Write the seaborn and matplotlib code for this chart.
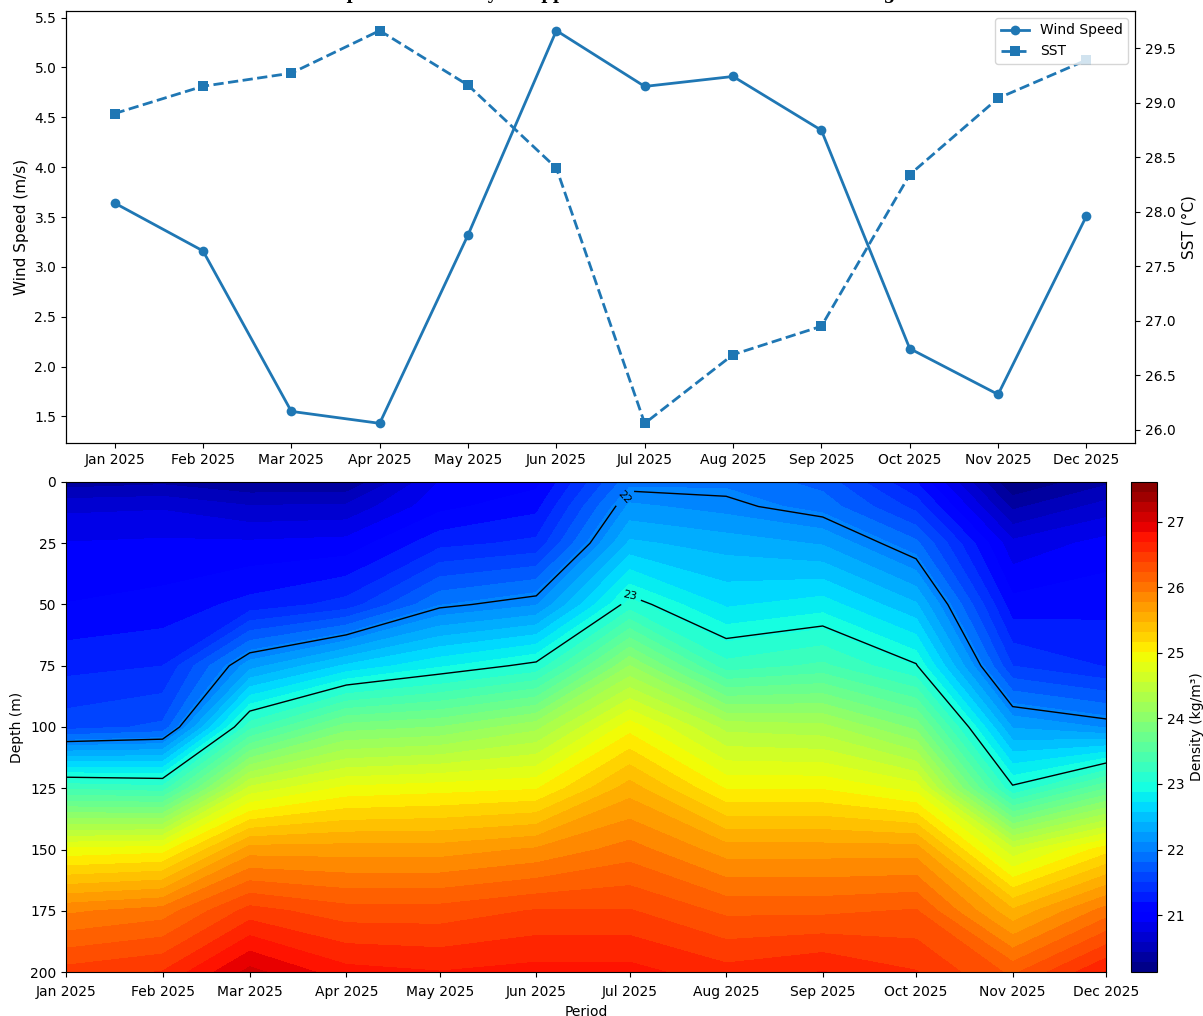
import numpy as np
import pandas as pd
import matplotlib
matplotlib.use('Agg')
import matplotlib.pyplot as plt
import matplotlib.dates as mdates
import seaborn as sns

# Monthly surface forcing
months = ['Jan 2025', 'Feb 2025', 'Mar 2025', 'Apr 2025', 'May 2025', 'Jun 2025',
          'Jul 2025', 'Aug 2025', 'Sep 2025', 'Oct 2025', 'Nov 2025', 'Dec 2025']
wind_speed = [3.64, 3.16, 1.55, 1.43, 3.32, 5.37, 4.81, 4.91, 4.37, 2.18, 1.72, 3.51]
sst = [28.90, 29.15, 29.27, 29.66, 29.16, 28.40, 26.06, 26.69, 26.95, 28.34, 29.04, 29.39]

# Density section (rows = depth, columns = month)
depths = [0, 10, 25, 50, 75, 100, 125, 150, 175, 200]
dens_jan = [20.35, 20.70, 20.90, 21.05, 21.30, 21.59, 23.31, 24.90, 25.90, 26.45]
dens_feb = [20.40, 20.72, 20.92, 21.10, 21.35, 21.69, 23.25, 24.95, 26.00, 26.55]
dens_mar = [20.30, 20.60, 20.92, 21.25, 22.20, 23.28, 24.60, 25.70, 26.45, 27.05]
dens_apr = [20.30, 20.62, 20.95, 21.41, 22.60, 23.87, 24.90, 25.70, 26.30, 26.75]
dens_may = [20.90, 21.00, 21.30, 21.95, 22.85, 23.95, 24.95, 25.70, 26.30, 26.70]
dens_jun = [21.00, 21.15, 21.39, 22.10, 23.06, 24.20, 25.00, 25.80, 26.40, 26.75]
dens_jul = [21.91, 22.15, 22.45, 23.09, 24.10, 24.95, 25.55, 26.00, 26.40, 26.75]
dens_aug = [21.93, 22.05, 22.35, 22.70, 23.24, 24.35, 25.00, 25.70, 26.20, 26.60]
dens_sep = [21.75, 21.90, 22.25, 22.80, 23.37, 24.30, 25.00, 25.70, 26.20, 26.70]
dens_oct = [21.20, 21.45, 21.85, 22.44, 23.02, 23.90, 24.80, 25.70, 26.25, 26.55]
dens_nov = [20.13, 20.40, 20.78, 21.10, 21.50, 22.25, 23.04, 24.60, 25.50, 26.20]
dens_dec = [20.40, 20.65, 20.95, 21.15, 21.34, 22.10, 23.63, 25.10, 26.00, 26.70]

# Colour scale limits shown on the colorbar
level_min, level_max = 20.13, 27.61

density = np.array([dens_jan, dens_feb, dens_mar, dens_apr, dens_may, dens_jun,
                    dens_jul, dens_aug, dens_sep, dens_oct, dens_nov, dens_dec]).T
dates = pd.to_datetime(months, format='%b %Y')

df = pd.DataFrame({'Month': months, 'Wind Speed': wind_speed, 'SST': sst})

fig = plt.figure(figsize=(12.03, 10.16), dpi=100)
ax1 = fig.add_axes([0.0549, 0.564, 0.8886, 0.4252])
ax2 = ax1.twinx()
ax3 = fig.add_axes([0.0549, 0.0433, 0.8645, 0.4823])
cax = fig.add_axes([0.9401, 0.0433, 0.0217, 0.4823])

blue = '#1f77b4'
sns.lineplot(data=df, x='Month', y='Wind Speed', ax=ax1, color=blue, marker='o',
             markersize=7, markeredgewidth=0, linewidth=2, label='Wind Speed', legend=False)
sns.lineplot(data=df, x='Month', y='SST', ax=ax2, color=blue, marker='s', linestyle='--',
             markersize=7, markeredgewidth=0, linewidth=2, label='SST', legend=False)
ax1.set_xlabel('')
ax1.set_ylabel('Wind Speed (m/s)', fontsize=11)
ax2.set_ylabel('SST (°C)', fontsize=11)
h1, l1 = ax1.get_legend_handles_labels()
h2, l2 = ax2.get_legend_handles_labels()
ax2.legend(h1 + h2, l1 + l2, loc='upper right', fontsize=10)

# title sits mostly above the canvas, as in the original export
fig.text(0.5, 1.001, 'Temporal Variability of Upper Ocean Stratification and Forcing',
         ha='center', va='baseline', fontsize=12, fontweight='bold', family='DejaVu Serif')

# Density section
levels = np.linspace(level_min, level_max, 50)
cf = ax3.contourf(dates, depths, density, levels=levels, cmap='jet')
cs = ax3.contour(dates, depths, density, levels=[22, 23], colors='k', linewidths=1)
jul = mdates.date2num(pd.Timestamp('2025-07-01'))
ax3.clabel(cs, fmt='%d', fontsize=8, manual=[(jul, 8), (jul, 45)])
ax3.set_ylim(200, 0)
ax3.set_yticks([0, 25, 50, 75, 100, 125, 150, 175, 200])
ax3.xaxis.set_major_locator(mdates.MonthLocator())
ax3.xaxis.set_major_formatter(mdates.DateFormatter('%b %Y'))
ax3.set_ylabel('Depth (m)')
ax3.set_xlabel('Period')
ax3.tick_params(labelsize=10)
ax3.tick_params(axis='x', pad=6)

cb = fig.colorbar(cf, cax=cax)
cb.set_label('Density (kg/m³)')
cb.set_ticks([21, 22, 23, 24, 25, 26, 27])

fig.savefig('out.png', dpi=100)
